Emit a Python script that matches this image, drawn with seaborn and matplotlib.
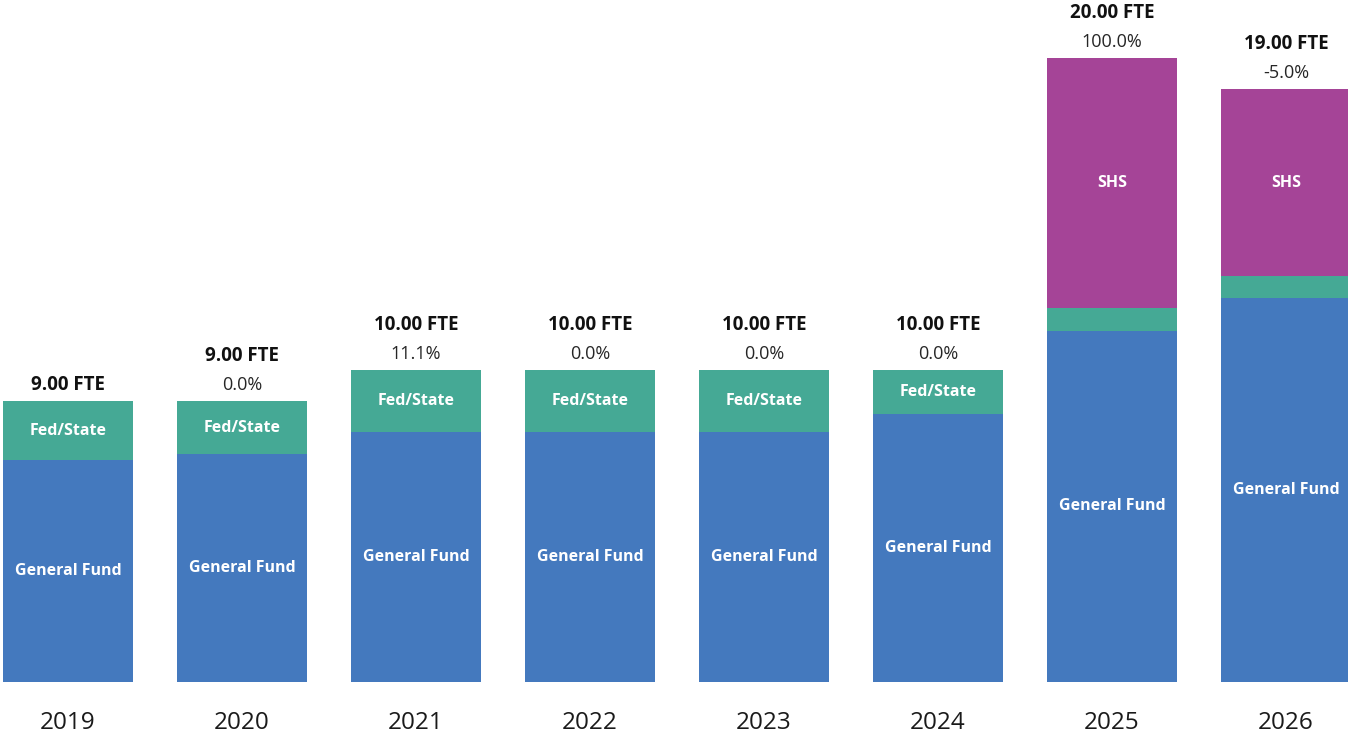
import matplotlib
matplotlib.use("Agg")
import matplotlib.pyplot as plt
import seaborn as sns
import pandas as pd
import numpy as np

years = ["2019", "2020", "2021", "2022", "2023", "2024", "2025", "2026"]
general_fund = [7.1, 7.3, 8.0, 8.0, 8.0, 8.6, 11.25, 12.3]
fed_state = [1.9, 1.7, 2.0, 2.0, 2.0, 1.4, 0.75, 0.7]
shs = [0, 0, 0, 0, 0, 0, 8.0, 6.0]
fte_labels = ["9.00 FTE", "9.00 FTE", "10.00 FTE", "10.00 FTE", "10.00 FTE", "10.00 FTE", "20.00 FTE", "19.00 FTE"]
pct_labels = ["", "0.0%", "11.1%", "0.0%", "0.0%", "0.0%", "100.0%", "-5.0%"]
show_fed_label = [True, True, True, True, True, True, False, False]
show_shs_label = [False, False, False, False, False, False, True, True]

C_GF = "#4479BE"
C_FS = "#45A995"
C_SHS = "#A54497"

sns.set_theme(style="white")
plt.rcParams["font.family"] = ["Open Sans", "DejaVu Sans"]

df = pd.DataFrame({"year": years, "gf": general_fund, "fs": fed_state, "shs": shs})
df["c1"] = df["gf"]
df["c2"] = df["gf"] + df["fs"]
df["c3"] = df["c2"] + df["shs"]

fig = plt.figure(figsize=(13.48, 7.35), dpi=100)
ax = fig.add_axes([0, 53 / 735, 1, 682 / 735])

W = 130 / 174
sns.barplot(data=df, x="year", y="c3", color=C_SHS, saturation=1, width=W, ax=ax, order=years, linewidth=0)
sns.barplot(data=df, x="year", y="c2", color=C_FS, saturation=1, width=W, ax=ax, order=years, linewidth=0)
sns.barplot(data=df, x="year", y="c1", color=C_GF, saturation=1, width=W, ax=ax, order=years, linewidth=0)

ax.set_xlim(-68 / 174, (1348 - 68) / 174)
ax.set_ylim(0, 682 / 31.2)
ax.set_xlabel("")
ax.set_ylabel("")
ax.set_yticks([])
for s in ax.spines.values():
    s.set_visible(False)
ax.tick_params(axis="x", length=0, pad=21, labelsize=17.5, labelcolor="#1a1a1a")

for i in range(len(years)):
    gf = df["gf"][i]
    fs = df["fs"][i]
    sh = df["shs"][i]
    top = gf + fs + sh
    ax.text(i, gf / 2, "General Fund", ha="center", va="center", color="white",
            fontsize=11.5, fontweight="bold")
    if show_fed_label[i]:
        ax.text(i, gf + fs / 2, "Fed/State", ha="center", va="center", color="white",
                fontsize=11.5, fontweight="bold")
    if show_shs_label[i]:
        ax.text(i, gf + fs + sh / 2, "SHS", ha="center", va="center", color="white",
                fontsize=11.5, fontweight="bold")
    if pct_labels[i]:
        ax.annotate(pct_labels[i], (i, top), xytext=(0, 11.5), textcoords="offset points",
                    ha="center", va="center", fontsize=13, color="#262626", annotation_clip=False)
        ax.annotate(fte_labels[i], (i, top), xytext=(0, 32.5), textcoords="offset points",
                    ha="center", va="center", fontsize=13.5, fontweight="bold", color="#111111",
                    annotation_clip=False)
    else:
        ax.annotate(fte_labels[i], (i, top), xytext=(0, 12), textcoords="offset points",
                    ha="center", va="center", fontsize=13.5, fontweight="bold", color="#111111",
                    annotation_clip=False)

fig.savefig("out.png", dpi=100)
